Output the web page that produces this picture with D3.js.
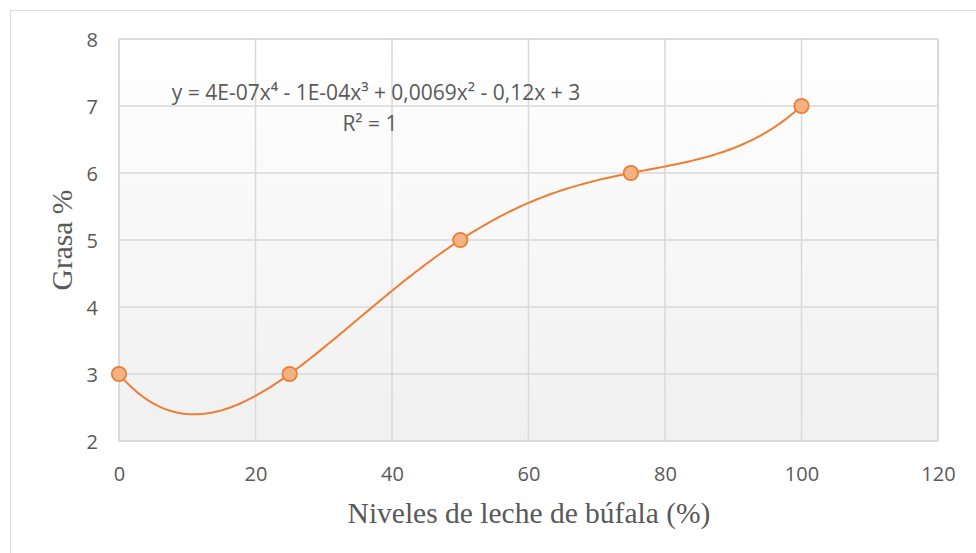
<!DOCTYPE html>
<html><head><meta charset="utf-8">
<script src="https://cdn.jsdelivr.net/npm/d3@7"></script>
<style>html,body{margin:0;padding:0;background:#fff;}svg{display:block;}</style>
</head><body>
<svg id="chart" width="976" height="553"></svg>
<script>
const xValues = [0, 25, 50, 75, 100];
const yValues = [3, 3, 5, 6, 7];
const xTicks = [0, 20, 40, 60, 80, 100, 120];
const yTicks = [2, 3, 4, 5, 6, 7, 8];
const equationText = "y = 4E-07x⁴ - 1E-04x³ + 0,0069x² - 0,12x + 3";
const r2Text = "R² = 1";
const xTitle = "Niveles de leche de búfala (%)";
const yTitle = "Grasa %";

const svg = d3.select("#chart");
const M = {left:119, top:39, right:938, bottom:441};
const x = d3.scaleLinear().domain([0,120]).range([M.left, M.right]);
const y = d3.scaleLinear().domain([2,8]).range([M.bottom, M.top]);

// outer frame
svg.append("rect").attr("x",10.5).attr("y",10.5).attr("width",980).attr("height",560)
  .attr("fill","#fff").attr("stroke","#d9d9d9").attr("stroke-width",1);

const defs = svg.append("defs");
const g = defs.append("linearGradient").attr("id","bg").attr("x1",0).attr("y1",0).attr("x2",0).attr("y2",1);
g.append("stop").attr("offset","0%").attr("stop-color","#ffffff");
g.append("stop").attr("offset","100%").attr("stop-color","#f0f0f0");

svg.append("rect").attr("x",M.left).attr("y",M.top).attr("width",M.right-M.left).attr("height",M.bottom-M.top)
  .attr("fill","url(#bg)");

// gridlines
svg.append("g").selectAll("line").data(xTicks).join("line")
  .attr("x1",d=>x(d)).attr("x2",d=>x(d)).attr("y1",M.top).attr("y2",M.bottom)
  .attr("stroke","#d9d9d9").attr("stroke-width",1.5);
svg.append("g").selectAll("line").data(yTicks).join("line")
  .attr("y1",d=>y(d)).attr("y2",d=>y(d)).attr("x1",M.left).attr("x2",M.right)
  .attr("stroke","#d9d9d9").attr("stroke-width",1.5);
svg.append("rect").attr("x",M.left).attr("y",M.top).attr("width",M.right-M.left).attr("height",M.bottom-M.top)
  .attr("fill","none").attr("stroke","#d9d9d9").attr("stroke-width",1.5);

// axes tick labels
const font = "Open Sans, Liberation Sans, sans-serif";
const xAxis = d3.axisBottom(x).tickValues(xTicks).tickFormat(d3.format("d")).tickSize(0).tickPadding(0);
const xa = svg.append("g").attr("transform",`translate(0,${M.bottom})`).call(xAxis);
xa.select(".domain").remove();
xa.selectAll("text").attr("dy",null).attr("y",40).attr("font-family",font).attr("font-size",20).attr("fill","#595959");
const yAxis = d3.axisLeft(y).tickValues(yTicks).tickFormat(d3.format("d")).tickSize(0).tickPadding(0);
const ya = svg.append("g").attr("transform",`translate(${M.left-21},0)`).call(yAxis);
ya.select(".domain").remove();
ya.selectAll("text").attr("dy","0.36em").attr("font-family",font).attr("font-size",20).attr("fill","#595959");

// trendline: least-squares polynomial of order 4 fitted to the data
function polyfit(xs, ys, order){
  const s = 100; // scale for conditioning
  const n = order+1;
  const A = Array.from({length:n},()=>new Array(n+1).fill(0));
  xs.forEach((xv,i)=>{
    const t = xv/s;
    for(let r=0;r<n;r++){
      for(let c=0;c<n;c++) A[r][c]+=Math.pow(t,r+c);
      A[r][n]+=ys[i]*Math.pow(t,r);
    }
  });
  for(let i=0;i<n;i++){
    let p=i; for(let k=i+1;k<n;k++) if(Math.abs(A[k][i])>Math.abs(A[p][i])) p=k;
    [A[i],A[p]]=[A[p],A[i]];
    for(let k=i+1;k<n;k++){const f=A[k][i]/A[i][i]; for(let c=i;c<=n;c++) A[k][c]-=f*A[i][c];}
  }
  const co=new Array(n).fill(0);
  for(let i=n-1;i>=0;i--){let v=A[i][n]; for(let c=i+1;c<n;c++) v-=A[i][c]*co[c]; co[i]=v/A[i][i];}
  return xv=>{const t=xv/s; return co.reduce((acc,cv,k)=>acc+cv*Math.pow(t,k),0);};
}
const f = polyfit(xValues, yValues, 4);
const trend = d3.range(0, 100.0001, 0.5).map(v=>[v, f(v)]);
svg.append("path").datum(trend)
  .attr("d", d3.line().x(d=>x(d[0])).y(d=>y(d[1])))
  .attr("fill","none").attr("stroke","#ed7d31").attr("stroke-width",2);

// markers
svg.append("g").selectAll("circle").data(xValues.map((v,i)=>[v,yValues[i]])).join("circle")
  .attr("cx",d=>x(d[0])).attr("cy",d=>y(d[1])).attr("r",7.2)
  .attr("fill","#f4b183").attr("stroke","#ed7d31").attr("stroke-width",1.8);

// equation
svg.append("text").attr("x",376).attr("y",100).attr("text-anchor","middle")
  .attr("font-family",font).attr("font-size",21).attr("fill","#595959").text(equationText);
svg.append("text").attr("x",370).attr("y",131).attr("text-anchor","middle")
  .attr("font-family",font).attr("font-size",21).attr("fill","#595959").text(r2Text);

// axis titles
const serif = "Liberation Serif, Times New Roman, serif";
svg.append("text").attr("x",529).attr("y",523).attr("text-anchor","middle")
  .attr("font-family",serif).attr("font-size",29.5).attr("fill","#595959").text(xTitle);
svg.append("text").attr("transform","translate(72,240) rotate(-90)").attr("text-anchor","middle")
  .attr("font-family",serif).attr("font-size",29.5).attr("fill","#595959").text(yTitle);
</script>
</body></html>
